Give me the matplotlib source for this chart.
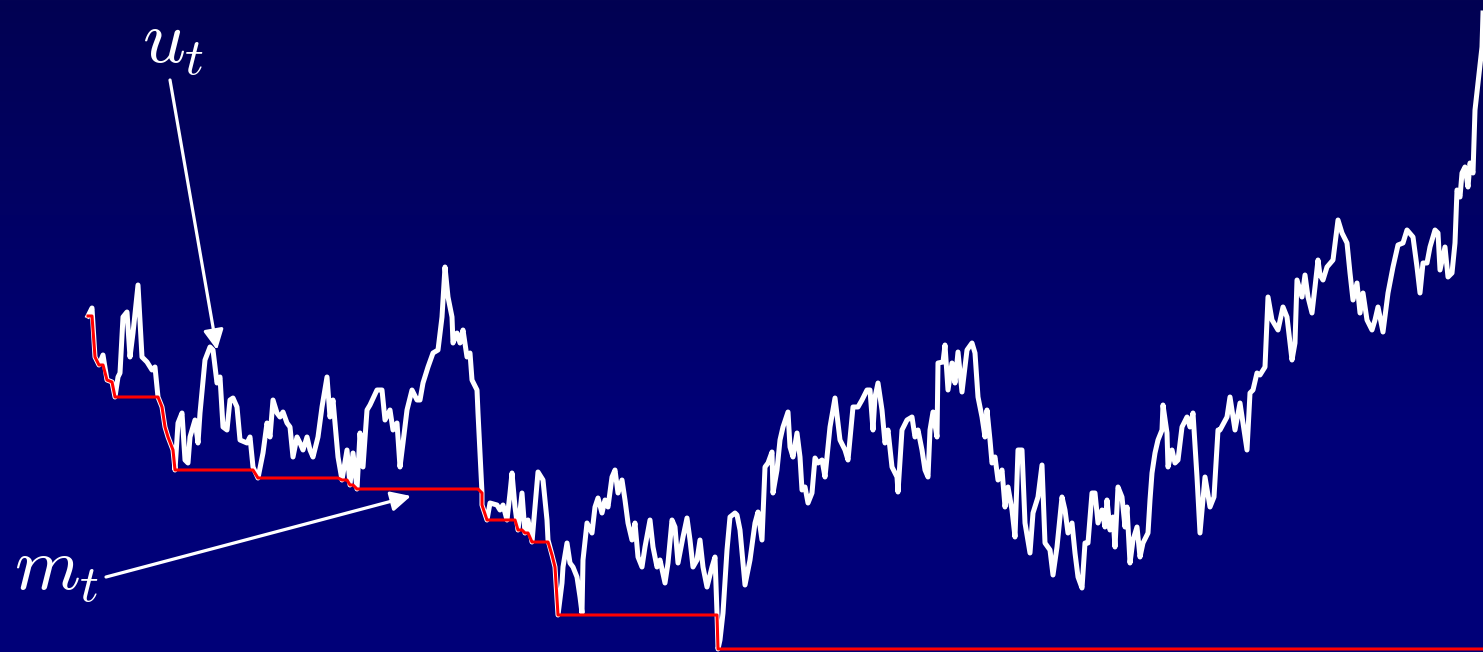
import matplotlib
matplotlib.use("Agg")
import matplotlib.pyplot as plt
import numpy as np

plt.rcParams['mathtext.fontset'] = 'cm'

# path: (x, depth from top in px)
walk_x = [88, 92, 95, 99, 103, 107, 112, 115, 118, 120, 123, 127, 130, 133, 138, 142, 147, 152, 155,
          158, 162, 165, 168, 173, 175, 178, 182, 185, 188, 190, 195, 198, 200, 205, 210, 213, 217, 220,
          223, 227, 230, 233, 237, 240, 247, 250, 253, 258, 263, 267, 270, 273, 277, 280, 283, 287, 290,
          293, 297, 300, 303, 307, 310, 313, 318, 322, 327, 330, 333, 338, 342, 347, 350, 353, 357, 360,
          363, 367, 370, 377, 382, 385, 390, 393, 397, 400, 403, 407, 412, 417, 420, 423, 428, 433, 438,
          442, 445, 448, 452, 453, 457, 460, 463, 467, 470, 472, 477, 478, 482, 482, 487, 490, 497, 500,
          503, 507, 510, 512, 515, 518, 522, 525, 528, 532, 535, 538, 543, 547, 548, 552, 555, 558, 562,
          563, 567, 570, 573, 577, 580, 582, 583, 587, 592, 595, 598, 602, 605, 608, 612, 615, 618, 622,
          625, 628, 632, 635, 638, 642, 645, 650, 653, 657, 660, 665, 668, 672, 675, 678, 683, 687, 690,
          693, 697, 700, 703, 707, 712, 715, 717, 718, 720, 723, 727, 730, 735, 737, 740, 745, 750, 755,
          758, 762, 765, 768, 772, 773, 777, 780, 783, 788, 790, 793, 797, 800, 802, 805, 808, 812, 815,
          818, 822, 825, 827, 830, 835, 840, 845, 848, 853, 858, 862, 867, 870, 873, 875, 878, 882, 885,
          888, 892, 897, 898, 902, 907, 912, 915, 918, 922, 925, 928, 930, 933, 937, 938, 943, 945, 948,
          952, 955, 958, 962, 967, 972, 975, 978, 982, 985, 987, 990, 992, 995, 998, 1002, 1005, 1008,
          1012, 1015, 1018, 1022, 1025, 1030, 1033, 1038, 1042, 1045, 1050, 1053, 1057, 1062, 1065, 1068,
          1072, 1075, 1078, 1082, 1085, 1088, 1092, 1095, 1098, 1102, 1105, 1107, 1110, 1113, 1115, 1118,
          1122, 1125, 1127, 1130, 1133, 1137, 1140, 1143, 1148, 1150, 1152, 1155, 1158, 1162, 1163, 1167,
          1168, 1172, 1175, 1178, 1182, 1187, 1190, 1193, 1197, 1200, 1205, 1210, 1214, 1218, 1220, 1227,
          1230, 1235, 1240, 1247, 1250, 1253, 1257, 1260, 1265, 1268, 1272, 1278, 1283, 1287, 1292, 1295,
          1297, 1302, 1305, 1308, 1312, 1315, 1318, 1320, 1323, 1327, 1333, 1338, 1342, 1347, 1350, 1353,
          1357, 1360, 1363, 1367, 1372, 1375, 1378, 1383, 1388, 1393, 1398, 1403, 1407, 1413, 1417, 1420,
          1423, 1427, 1430, 1435, 1438, 1440, 1445, 1448, 1452, 1455, 1457, 1460, 1462, 1465, 1468, 1470,
          1473, 1475, 1478, 1482, 1483]
walk_y = [316, 308, 357, 365, 355, 380, 382, 397, 377, 373, 317, 312, 357, 333, 285, 357, 362, 370, 367,
          397, 407, 427, 437, 450, 470, 423, 413, 460, 463, 437, 420, 443, 413, 360, 347, 350, 383, 377,
          427, 430, 400, 398, 407, 440, 443, 437, 467, 478, 453, 423, 437, 400, 413, 417, 412, 423, 427,
          457, 437, 443, 450, 437, 450, 457, 437, 407, 377, 417, 400, 457, 480, 450, 485, 453, 489, 433,
          467, 410, 405, 390, 390, 420, 410, 430, 423, 467, 443, 410, 390, 400, 400, 383, 367, 353, 350,
          317, 267, 297, 317, 343, 333, 343, 330, 357, 353, 380, 390, 413, 493, 505, 520, 503, 505, 510,
          505, 520, 493, 473, 507, 530, 493, 533, 520, 542, 507, 472, 480, 520, 540, 555, 567, 615, 583,
          567, 543, 563, 567, 577, 597, 613, 560, 523, 533, 507, 498, 513, 500, 507, 477, 470, 493, 480,
          500, 523, 540, 523, 557, 567, 547, 520, 547, 567, 560, 583, 563, 520, 527, 563, 537, 518, 540,
          567, 560, 540, 567, 587, 567, 557, 613, 649, 640, 613, 550, 517, 513, 515, 530, 585, 560, 523,
          512, 540, 467, 463, 452, 493, 470, 440, 427, 412, 447, 457, 433, 457, 490, 487, 503, 493, 458,
          463, 460, 477, 457, 427, 398, 440, 450, 460, 407, 407, 400, 390, 390, 430, 397, 383, 410, 443,
          430, 467, 477, 492, 430, 420, 417, 437, 430, 450, 470, 477, 430, 412, 437, 363, 362, 345, 390,
          363, 383, 352, 392, 350, 343, 353, 397, 417, 437, 410, 440, 463, 457, 480, 470, 507, 487,
          510, 537, 450, 450, 523, 553, 513, 497, 465, 543, 550, 575, 547, 497, 510, 533,
          523, 553, 577, 588, 543, 543, 493, 493, 523, 510, 527, 500, 530, 517, 547, 487,
          497, 527, 507, 563, 540, 527, 557, 543, 533, 500, 473, 453, 440, 430, 405, 433,
          467, 450, 463, 460, 427, 417, 427, 413, 477, 533, 477, 507, 497, 430, 430, 417,
          397, 430, 403, 450, 393, 390, 373, 375, 367, 297, 320, 330, 307, 317, 360, 343,
          280, 297, 275, 297, 313, 287, 260, 275, 280, 267, 260, 220, 233, 243, 273, 300,
          283, 313, 293, 320, 330, 320, 307, 332, 293, 267, 245, 243, 230, 237, 267, 293,
          263, 263, 247, 230, 233, 270, 247, 277, 273, 243, 190, 197, 173, 167, 187, 163,
          173, 110, 83, 47, 13]

# running minimum of the walk (largest depth so far)
min_y = np.maximum.accumulate(walk_y)

fig = plt.figure(figsize=(14.83, 6.52), dpi=100)
ax = fig.add_axes([0, 0, 1, 1])
ax.set_xlim(0, 1483)
ax.set_ylim(652, 0)
ax.axis('off')

# background: dark navy at the top fading to blue, flat below ~430px
t = np.clip(np.linspace(0, 1, 652) * 652 / 430, 0, 1)
top = np.array([2, 2, 82]) / 255
bot = np.array([0, 0, 120]) / 255
grad = top[None, :] * (1 - t[:, None]) + bot[None, :] * t[:, None]
ax.imshow(grad[:, None, :], extent=[0, 1483, 652, 0], aspect='auto', zorder=0)

ax.plot(walk_x, walk_y, color='white', lw=3.6, solid_joinstyle='round', zorder=2)
ax.plot(walk_x, min_y, color='#ff0000', lw=2.2, zorder=3)

arrow = dict(arrowstyle='-|>', color='white', lw=2.3, mutation_scale=30, shrinkA=0, shrinkB=0)
ax.annotate('', xy=(217, 350), xytext=(170, 80), arrowprops=arrow, zorder=4)
ax.annotate('', xy=(411, 496), xytext=(106, 577), arrowprops=arrow, zorder=4)
ax.text(142, 63, r'$u_t$', color='white', fontsize=54, ha='left', va='baseline')
ax.text(14, 590, r'$m_t$', color='white', fontsize=54, ha='left', va='baseline')

fig.savefig('out.png', dpi=100)
